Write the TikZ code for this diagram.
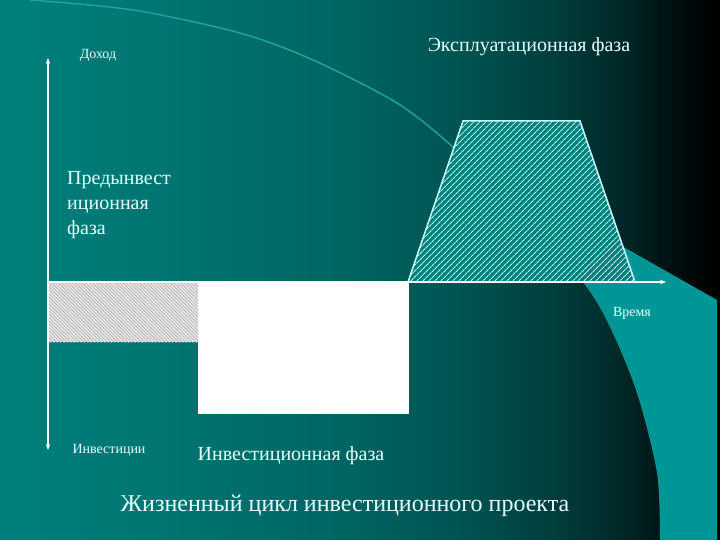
\documentclass[tikz,border=0pt]{standalone}
\usepackage{fontspec}
\setmainfont{Liberation Serif}
\usetikzlibrary{patterns.meta,arrows.meta}
\definecolor{bgA}{RGB}{0,128,124}
\definecolor{bgB}{RGB}{0,114,110}
\definecolor{bgC}{RGB}{0,100,97}
\definecolor{bgD}{RGB}{0,82,80}
\definecolor{bgE}{RGB}{0,60,58}
\definecolor{bgF}{RGB}{0,36,36}
\definecolor{bgG}{RGB}{0,8,8}
\definecolor{lightreg}{RGB}{0,150,150}
\definecolor{curvecol}{RGB}{30,165,160}
\definecolor{paletxt}{RGB}{228,255,255}
\definecolor{hatchbg}{RGB}{8,128,126}
\definecolor{hatchln}{RGB}{195,255,255}
\pgfdeclarehorizontalshading{bgshade}{100bp}{color(0bp)=(bgA); color(25bp)=(bgA); color(38.9bp)=(bgB); color(49.3bp)=(bgC); color(57.6bp)=(bgD); color(63.9bp)=(bgE); color(68.75bp)=(bgF); color(72.9bp)=(bgG); color(75bp)=(black); color(100bp)=(black)}
\tikzset{
  lbl/.style={text=paletxt, inner sep=0pt},
  smalllbl/.style={lbl, font=\fontsize{14}{16}\selectfont},
  biglbl/.style={lbl, font=\fontsize{20}{25}\selectfont},
  axisline/.style={draw=white, line width=1.6pt},
}
\begin{document}
\begin{tikzpicture}[x=1pt,y=-1pt]
\useasboundingbox (0,0) rectangle (720,540);
% background
\shade[shading=bgshade] (0,0) rectangle (720,540);
% light region on the right
\fill[lightreg] plot[smooth] coordinates {(470,160) (520,210) (583,282) (610,327) (637,393) (657,473) (660,540)}
  -- (717,540) -- (717,300) -- cycle;
% thin curve
\draw[curvecol, line width=1.4pt] plot[smooth] coordinates {(30,0) (133,10) (240,33) (313,60) (397,103) (453,147) (520,210) (583,282)};
% gray hatched box
\fill[white!82!gray] (48,282) rectangle (198,342);
\fill[pattern={Lines[angle=-45,distance=2.4pt,line width=0.6pt]}, pattern color=gray!65] (48,282) rectangle (198,342);
% white box
\fill[white] (198,282) rectangle (409,414);
% trapezoid
\fill[hatchbg] (408,282) -- (463,121) -- (580,121) -- (635,282) -- cycle;
\fill[pattern={Lines[angle=45,distance=4pt,line width=0.9pt]}, pattern color=hatchln] (408,282) -- (463,121) -- (580,121) -- (635,282) -- cycle;
\draw[hatchln, line width=1.5pt, line join=miter] (408,282) -- (463,121) -- (580,121) -- (635,282);
% axes
\coordinate (vtop) at (48,58);
\coordinate (vbot) at (48,450);
\coordinate (horig) at (48,282);
\coordinate (hend) at (666,282);
\draw[axisline, {Stealth[length=6pt,width=4.5pt]}-{Stealth[length=6pt,width=4.5pt]}] (vtop) -- (vbot);
\draw[axisline, -{Stealth[length=6pt,width=4.5pt]}] (horig) -- (hend);
% labels
\node[smalllbl] (dohod) at (98,55) {Доход};
\node[lbl, font=\fontsize{20}{24}\selectfont] (expl) at (529,47) {Эксплуатационная фаза};
\node[biglbl, align=left, anchor=north west] (predinv) at (67,171) {Предынвест\\иционная\\фаза};
\node[smalllbl] (vremya) at (632,313) {Время};
\node[smalllbl] (invest) at (109,450) {Инвестиции};
\node[biglbl] (invphase) at (291,456) {Инвестиционная фаза};
\node[lbl, font=\fontsize{24}{28}\selectfont] (title) at (345,506) {Жизненный цикл инвестиционного проекта};
\end{tikzpicture}
\end{document}
